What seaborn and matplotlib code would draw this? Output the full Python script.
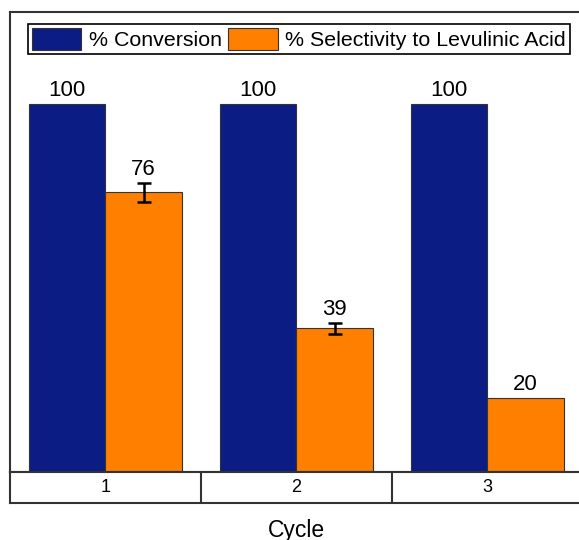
import matplotlib
matplotlib.use("Agg")
import matplotlib.pyplot as plt
import seaborn as sns
import pandas as pd
import numpy as np

# Catalyst recycling results
cycles = ["1", "2", "3"]
conversion = [100, 100, 100]
selectivity = [76, 39, 20]
selectivity_err = [2.6, 1.6, 0.0]
series_names = ["% Conversion", "% Selectivity to Levulinic Acid"]

navy = "#0b1d84"
orange = "#ff7f00"

sns.set_theme(style="white")
plt.rcParams["font.family"] = ["Liberation Sans", "DejaVu Sans"]
plt.rcParams["text.color"] = "black"

df = pd.DataFrame({
    "Cycle": cycles * 2,
    "Value": conversion + selectivity,
    "Series": [series_names[0]] * len(cycles) + [series_names[1]] * len(cycles),
})

fig = plt.figure(figsize=(5.79, 5.40), dpi=100)
ax = fig.add_axes([10 / 579, 68 / 540, 573 / 579, 460 / 540])
strip = fig.add_axes([10 / 579, 37 / 540, 573 / 579, 31 / 540])

sns.barplot(data=df, x="Cycle", y="Value", hue="Series", order=cycles,
            hue_order=series_names, palette=[navy, orange], saturation=1,
            width=0.8, edgecolor="#333333", linewidth=0.8, errorbar=None, ax=ax)

ax.set_xlim(-0.5, 2.5)
ax.set_ylim(0, 125)
ax.set_xticks([])
ax.set_yticks([])
ax.set_xlabel("")
ax.set_ylabel("")
for side in ["left", "top", "right", "bottom"]:
    ax.spines[side].set_color("#333333")
    ax.spines[side].set_linewidth(1.5)

# error bars and value labels
n = len(cycles)
conv_bars = ax.patches[:n]
sel_bars = ax.patches[n:2 * n]
for bar, val in zip(conv_bars, conversion):
    cx = bar.get_x() + bar.get_width() / 2
    ax.text(cx, val + 0.8, f"{val:g}", ha="center", va="bottom", fontsize=16,
            color="black")
for bar, val, err in zip(sel_bars, selectivity, selectivity_err):
    cx = bar.get_x() + bar.get_width() / 2
    if err > 0:
        ax.errorbar(cx, val, yerr=err, fmt="none", ecolor="black",
                    elinewidth=1.8, capsize=5, capthick=1.8)
    ax.text(cx, val + err + 0.8, f"{val:g}", ha="center", va="bottom", fontsize=16,
            color="black")

# legend across the top
handles, labels = ax.get_legend_handles_labels()
leg = ax.legend(handles, labels, loc="upper left",
                bbox_to_anchor=(28 / 579, 1 - 24 / 540), bbox_transform=fig.transFigure,
                ncol=2, fontsize=15.4, frameon=True, fancybox=False, framealpha=1,
                edgecolor="black", borderaxespad=0, borderpad=0.2,
                handlelength=2.3, handleheight=1.15, handletextpad=0.35,
                columnspacing=0.3)
leg.get_frame().set_linewidth(1.2)
for t in leg.get_texts():
    t.set_color("black")

# category strip under the bars
strip.set_xlim(-0.5, 2.5)
strip.set_ylim(0, 1)
strip.set_xticks([])
strip.set_yticks([])
for side in ["left", "top", "right", "bottom"]:
    strip.spines[side].set_color("#333333")
    strip.spines[side].set_linewidth(1.5)
for b in np.arange(0.5, len(cycles) - 0.5, 1.0):
    strip.axvline(b, color="#333333", lw=1.5)
for i, c in enumerate(cycles):
    strip.text(i, 0.5, c, ha="center", va="center", fontsize=13, color="black")

fig.text(296.5 / 579, 1 - 530 / 540, "Cycle", ha="center", va="center",
         fontsize=16.5, color="black")

fig.savefig("out.png", dpi=100)
